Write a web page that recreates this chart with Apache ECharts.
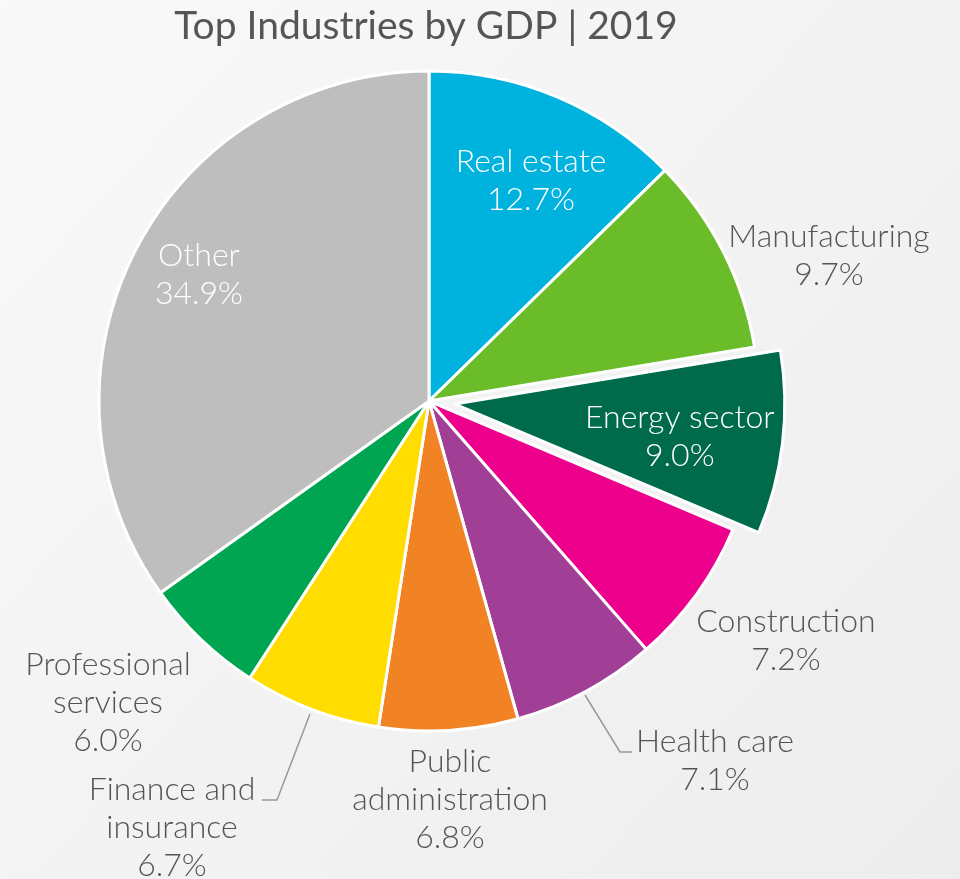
<!DOCTYPE html>
<html>
<head>
<meta charset="utf-8">
<script src="https://cdn.jsdelivr.net/npm/echarts@6/dist/echarts.min.js"></script>
<style>
html,body{margin:0;padding:0;width:960px;height:879px;overflow:hidden;}
#chart{width:960px;height:879px;}
</style>
</head>
<body>
<div id="chart"></div>
<script>
const categories = ['Real estate','Manufacturing','Energy sector','Construction','Health care','Public administration','Finance and insurance','Professional services','Other'];
const shares = [12.7, 9.7, 9.0, 7.2, 7.1, 6.8, 6.7, 6.0, 34.9];
const colors = ['#00B2DE','#6ABD28','#006B4B','#EC008C','#A03F95','#F18325','#FFDD00','#00A551','#BEBEBE'];
const titleText = 'Top Industries by GDP | 2019';

// label presentation (wrapping, placement, colour)
const wrapped = {
  'Public administration': 'Public\nadministration',
  'Finance and insurance': 'Finance and\ninsurance',
  'Professional services': 'Professional\nservices'
};
const insideLabels = ['Real estate','Energy sector','Other'];
const labelAnchor = [[531,181],[829,256],[654,434],[786,641],[715,761],[450,800],[172,828],[108,703],[199,275]];
const leaderLines = {
  'Health care': [[585,695],[620,752],[632,752]],
  'Finance and insurance': [[310,714],[277,800],[262,800]]
};
const explodedName = 'Energy sector';

const chart = echarts.init(document.getElementById('chart'), null, {renderer:'canvas'});
const data = categories.map((name, i) => ({
  name: name,
  value: shares[i],
  selected: name === explodedName,
  itemStyle: {color: colors[i]},
  label: {
    color: insideLabels.includes(name) ? '#ffffff' : '#555555',
    position: name === explodedName ? 'inside' : 'outside'
  },
  labelLine: {show: !!leaderLines[name]}
}));

chart.setOption({
  animation: false,
  backgroundColor: {
    type: 'linear', x: 0, y: 0, x2: 1, y2: 1,
    colorStops: [{offset: 0, color: '#f9f9f9'}, {offset: 0.5, color: '#f3f3f4'}, {offset: 1, color: '#ededee'}]
  },
  title: {
    text: titleText,
    left: 421,
    textAlign: 'center',
    top: 2,
    textStyle: {fontFamily: 'Lato', fontSize: 39, fontWeight: 'normal', color: '#555555'}
  },
  series: [{
    type: 'pie',
    center: [429, 401],
    radius: [0, 330],
    startAngle: 90,
    clockwise: true,
    avoidLabelOverlap: false,
    selectedMode: 'single',
    selectedOffset: 26,
    itemStyle: {borderColor: '#ffffff', borderWidth: 3},
    select: {itemStyle: {borderColor: '#ffffff', borderWidth: 3}},
    emphasis: {disabled: true},
    label: {
      show: true,
      fontFamily: 'Lato',
      fontSize: 32,
      fontWeight: 300,
      lineHeight: 38,
      align: 'center',
      formatter: p => (wrapped[p.name] || p.name) + '\n' + p.value.toFixed(1) + '%'
    },
    labelLine: {lineStyle: {color: '#999999', width: 1.5}},
    labelLayout: function (params) {
      const a = labelAnchor[params.dataIndex];
      const name = categories[params.dataIndex];
      if (name === explodedName) {
        const r = params.labelRect;
        return {dx: a[0] - (r.x + r.width / 2), dy: a[1] - (r.y + r.height / 2)};
      }
      const out = {x: a[0], y: a[1], align: 'center', verticalAlign: 'middle'};
      if (leaderLines[name]) out.labelLinePoints = leaderLines[name];
      return out;
    },
    data: data
  }]
});
</script>
</body>
</html>
